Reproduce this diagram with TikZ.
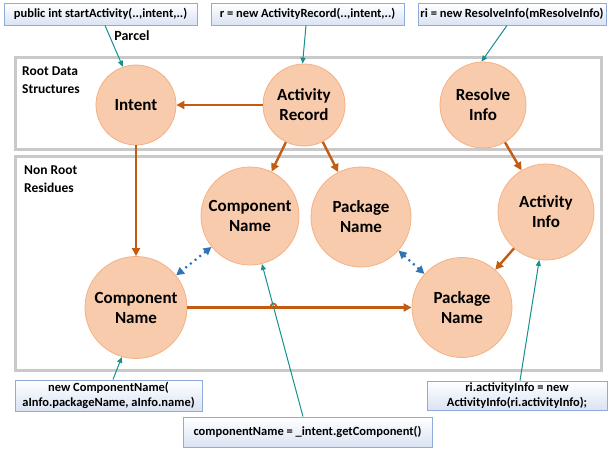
\documentclass[tikz,border=0pt]{standalone}
\usepackage{fontspec}
\setmainfont{Carlito}
\usetikzlibrary{arrows.meta}
\definecolor{orarrow}{HTML}{C55A11}
\definecolor{tealln}{HTML}{168F8F}
\definecolor{bluedot}{HTML}{2E75B6}
\definecolor{peach}{HTML}{F8CBAD}
\definecolor{peachedge}{HTML}{F4B183}
\definecolor{frame}{HTML}{C9C9C9}
\definecolor{boxedge}{HTML}{8FAADC}
\definecolor{boxbot}{HTML}{DAE3F3}
\tikzset{
  blob/.style={circle, fill=peach, draw=peachedge, line width=0.8pt, align=center,
    font=\fontsize{17}{20}\selectfont\bfseries, inner sep=0pt},
  codebox/.style={rectangle, draw=boxedge, line width=0.9pt, top color=white, bottom color=boxbot,
    align=center, font=\fontsize{12.5}{15}\selectfont\bfseries, inner sep=0pt},
  region/.style={draw=frame, line width=3pt},
  regionlabel/.style={anchor=west, align=left, font=\fontsize{13.5}{18}\selectfont\bfseries, inner sep=0pt},
  flow/.style={draw=orarrow, line width=2.4pt, -{Triangle[length=8pt,width=8pt]}},
  ptr/.style={draw=tealln, line width=1pt, -{Triangle[length=6pt,width=5pt]}},
  twin/.style={draw=bluedot, line width=2.2pt, dash pattern=on 2pt off 4pt,
    {Triangle[length=8pt,width=8pt]}-{Triangle[length=8pt,width=8pt]}}
}
\begin{document}
\begin{tikzpicture}[x=1pt,y=-1pt]
\useasboundingbox (0,0) rectangle (608,450);
% regions
\draw[region] (15.5,57) rectangle (601.5,149.5);
\draw[region] (15.5,156) rectangle (601.5,370);
\node[regionlabel] (rootlbl) at (22,80.5) {Root Data\\Structures};
\node[regionlabel] (nonrootlbl) at (24,179) {Non Root\\Residues};
% circles
\node[blob, minimum size=80pt] (intent) at (136,105) {Intent};
\node[blob, minimum size=82pt] (ar) at (304,105) {Activity\\Record};
\node[blob, minimum size=86pt] (ri) at (483,105) {Resolve\\Info};
\node[blob, minimum size=98pt] (cnu) at (250,216) {Component\\Name};
\node[blob, minimum size=100pt] (pnu) at (361,217) {Package\\Name};
\node[blob, minimum size=96pt] (ai) at (546,212) {Activity\\Info};
\node[blob, minimum size=102pt] (cnl) at (136,307.5) {Component\\Name};
\node[blob, minimum size=100pt] (pnl) at (462,307.5) {Package\\Name};
% code boxes
\node[codebox, minimum width=193pt, minimum height=22pt] (b1) at (100.5,14) {public int startActivity(..,intent,..)};
\node[codebox, minimum width=193pt, minimum height=22pt] (b2) at (307.5,14) {r = new ActivityRecord(..,intent,..)};
\node[codebox, minimum width=188pt, minimum height=22pt] (b3) at (512,14) {ri = new ResolveInfo(mResolveInfo)};
\node[codebox, minimum width=187pt, minimum height=31pt] (b4) at (108.5,395.5) {new ComponentName(\\aInfo.packageName, aInfo.name)};
\node[codebox, minimum width=249pt, minimum height=30pt] (b5) at (307.5,432) {componentName = \_intent.getComponent()};
\node[codebox, minimum width=180pt, minimum height=29pt] (b6) at (517,395.5) {ri.activityInfo = new\\ActivityInfo(ri.activityInfo);};
\node[font=\fontsize{14}{16}\selectfont\bfseries, inner sep=0pt] (parcel) at (132,36) {Parcel};
% orange flows
\draw[flow] (ar) -- (intent);
\draw[flow] (intent) -- (cnl);
\draw[flow] (ar) -- (cnu);
\draw[flow] (ar) -- (pnu);
\draw[flow] (ri) -- (ai);
\draw[flow] (ai) -- (pnl);
\draw[flow] (cnl) -- (pnl);
% line hop where the pointer crosses
\coordinate (hop) at (273.5,306.5);
\draw[orarrow, line width=1.6pt] ([xshift=-3pt]hop) arc[start angle=180, end angle=0, radius=3pt];
% blue dotted twins
\draw[twin] (cnu) -- (cnl);
\draw[twin] (pnu) -- (pnl);
% teal pointers
\draw[ptr] ([xshift=4.5pt]b1.south) -- (intent.109);
\draw[ptr] ([xshift=-1.5pt]b2.south) -- (ar.92);
\draw[ptr] ([xshift=-5pt]b3.south) -- (ri.92);
\draw[ptr] ([xshift=4.5pt]b4.north) -- (cnl.254);
\draw[ptr] ([xshift=-4.5pt]b5.north) -- (cnu.284);
\draw[ptr] ([xshift=3pt]b6.north) -- (ai.262);
\end{tikzpicture}
\end{document}
